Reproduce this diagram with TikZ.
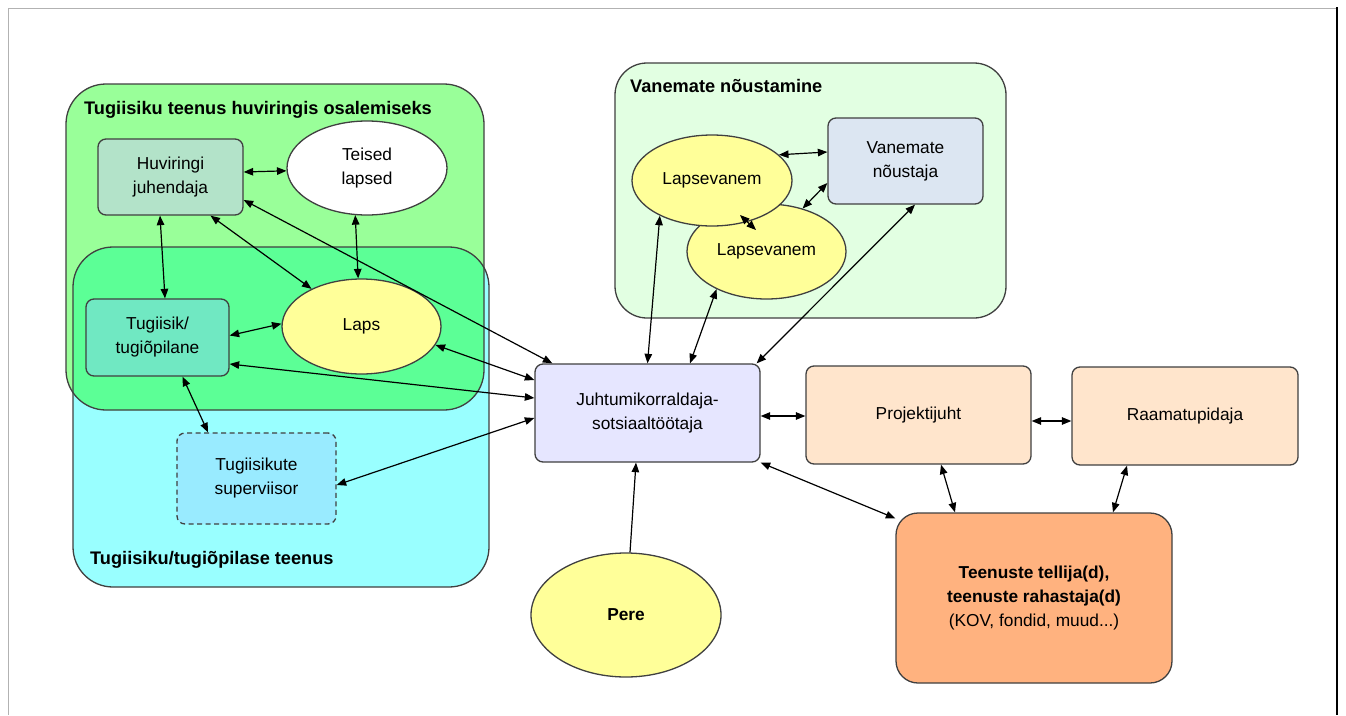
\documentclass[tikz,border=0pt]{standalone}
\usepackage{fontspec}
\setmainfont{Liberation Sans}
\usetikzlibrary{arrows.meta,shapes.geometric,calc}
\definecolor{grpgreen}{HTML}{99FF99}
\definecolor{grpcyan}{HTML}{99FFFF}
\definecolor{grpover}{HTML}{5CFF96}
\definecolor{grpvan}{HTML}{E2FFE2}
\definecolor{huvfill}{HTML}{B3E3C9}
\definecolor{tugfill}{HTML}{70E8C2}
\definecolor{supfill}{HTML}{99EBFF}
\definecolor{vnfill}{HTML}{DCE6F2}
\definecolor{jkfill}{HTML}{E6E6FF}
\definecolor{pjfill}{HTML}{FFE5CC}
\definecolor{ttfill}{HTML}{FFB27F}
\definecolor{yel}{HTML}{FFFF99}
\definecolor{edge}{HTML}{404040}
\tikzset{
  nodefont/.style={font=\fontsize{17.3}{24}\selectfont},
  boxnode/.style={nodefont, draw=edge, line width=1.3pt, rounded corners=8pt, align=center, inner sep=0pt},
  ellnode/.style={nodefont, draw=edge, line width=1.3pt, ellipse, align=center, inner sep=0pt},
  grp/.style={draw=edge, line width=1.3pt},
  grplabel/.style={font=\fontsize{18.2}{21}\selectfont\bfseries, anchor=base west, inner sep=0pt},
  link/.style={line width=1.2pt, {Triangle[length=9.5pt,width=7.5pt]}-{Triangle[length=9.5pt,width=7.5pt]}},
  onelink/.style={line width=1.2pt, -{Triangle[length=9.5pt,width=7.5pt]}}
}
\begin{document}
\begin{tikzpicture}[x=1pt,y=-1pt]
\useasboundingbox (0,0) rectangle (1346,715);
\fill[white] (0,0) rectangle (1346,715);
% frame
\draw[gray!60, line width=1pt] (8,715) -- (8,8) -- (1337,8);
\draw[black, line width=2.5pt] (1337,7) -- (1337,715);

% groups
\fill[grpcyan, rounded corners=40pt] (73,247) rectangle (489,587);
\fill[grpgreen, rounded corners=40pt] (66,84) rectangle (484,410);
\begin{scope}
  \clip[rounded corners=40pt] (73,247) rectangle (489,587);
  \fill[grpover, rounded corners=40pt] (66,84) rectangle (484,410);
\end{scope}
\draw[grp, rounded corners=40pt] (66,84) rectangle (484,410);
\draw[grp, rounded corners=40pt] (73,247) rectangle (489,587);
\draw[grp, fill=grpvan, rounded corners=32pt] (615,63) rectangle (1006,318);

\node[grplabel] (lgreen) at (84,114) {Tugiisiku teenus huviringis osalemiseks};
\node[grplabel] (lcyan) at (90,564) {Tugiisiku/tugiõpilase teenus};
\node[grplabel] (lvan) at (630,92) {Vanemate nõustamine};

% nodes
\node[boxnode, fill=huvfill, minimum width=145pt, minimum height=76pt] (hj) at (170.5,177) {Huviringi\\juhendaja};
\node[ellnode, fill=white, minimum width=160pt, minimum height=94pt] (teised) at (367,168) {Teised\\lapsed};
\node[boxnode, fill=tugfill, minimum width=143pt, minimum height=77pt] (tg) at (157.5,337.5) {Tugiisik/\\tugiõpilane};
\node[ellnode, fill=yel, minimum width=159pt, minimum height=95pt] (laps) at (361.5,326.5) {Laps};
\node[boxnode, fill=supfill, dash pattern=on 5pt off 3.5pt, minimum width=159pt, minimum height=91pt] (sv) at (256.5,478.5) {Tugiisikute\\superviisor};
\node[ellnode, fill=yel, minimum width=159pt, minimum height=95pt] (lv2) at (766.5,251.5) {Lapsevanem};
\node[ellnode, fill=yel, minimum width=160pt, minimum height=91pt] (lv1) at (712,180.5) {Lapsevanem};
\node[boxnode, fill=vnfill, minimum width=155pt, minimum height=86pt] (vn) at (905.5,161) {Vanemate\\nõustaja};
\node[boxnode, fill=jkfill, minimum width=225pt, minimum height=98pt] (jk) at (647.5,413) {Juhtumikorraldaja-\\sotsiaaltöötaja};
\node[boxnode, fill=pjfill, minimum width=225pt, minimum height=98pt] (pj) at (918.5,415) {Projektijuht};
\node[boxnode, fill=pjfill, minimum width=226pt, minimum height=98pt] (rp) at (1185,416) {Raamatupidaja};
\node[boxnode, fill=ttfill, rounded corners=22pt, minimum width=276pt, minimum height=170pt] (tt) at (1034,598) {\textbf{Teenuste tellija(d),}\\\textbf{teenuste rahastaja(d)}\\(KOV, fondid, muud...)};
\node[ellnode, fill=yel, minimum width=190pt, minimum height=124pt, font=\fontsize{17.3}{24}\selectfont\bfseries] (pere) at (626,615) {Pere};

% connectors
\draw[link] ([yshift=5pt]hj.east) -- (teised.182);
\draw[link] ([xshift=-10.5pt]hj.south) -- ([xshift=7.5pt]tg.north);
\draw[link] ([xshift=40pt]hj.south) -- (laps.143);
\draw[link] ([yshift=-23pt]hj.east) -- ([xshift=18pt]jk.north west);
\draw[link] (teised.256) -- (laps.94);
\draw[link] ([yshift=2pt]tg.east) -- (laps.178);
\draw[link] (laps.-14) -- ([yshift=33pt]jk.west);
\draw[link] ([yshift=-26.5pt]tg.east) -- ([yshift=15pt]jk.west);
\draw[link] ([xshift=25pt]tg.south) -- ([xshift=-48.5pt]sv.north);
\draw[link] ([yshift=-6.5pt]sv.east) -- ([yshift=-5pt]jk.west);
\draw[link] (lv1.214) -- (jk.north);
\draw[link] (lv2.217) -- ([xshift=42.5pt]jk.north);
\draw[link] ([xshift=9.5pt]vn.south) -- ([xshift=-4pt]jk.north east);
\draw[link] (lv1.21) -- ([yshift=9pt]vn.west);
\draw[link] (lv2.50) -- ([yshift=-22pt]vn.west);
\draw[link] ([shift={(28pt,-34.5pt)}]lv1.center) -- ([shift={(-10.5pt,21.5pt)}]lv2.center);
\draw[link] ([yshift=-3pt]jk.east) -- ([yshift=-1pt]pj.west);
\draw[link] ([yshift=-6pt]pj.east) -- ([yshift=-5pt]rp.west);
\draw[link] (jk.south east) -- ([yshift=-6pt]tt.north west);
\draw[link] ([xshift=22.5pt]pj.south) -- ([xshift=-79pt]tt.north);
\draw[link] ([xshift=-58pt]rp.south) -- ([xshift=79pt]tt.north);
\draw[onelink] ([xshift=4pt]pere.north) -- ([xshift=-11.5pt]jk.south);
\end{tikzpicture}
\end{document}
